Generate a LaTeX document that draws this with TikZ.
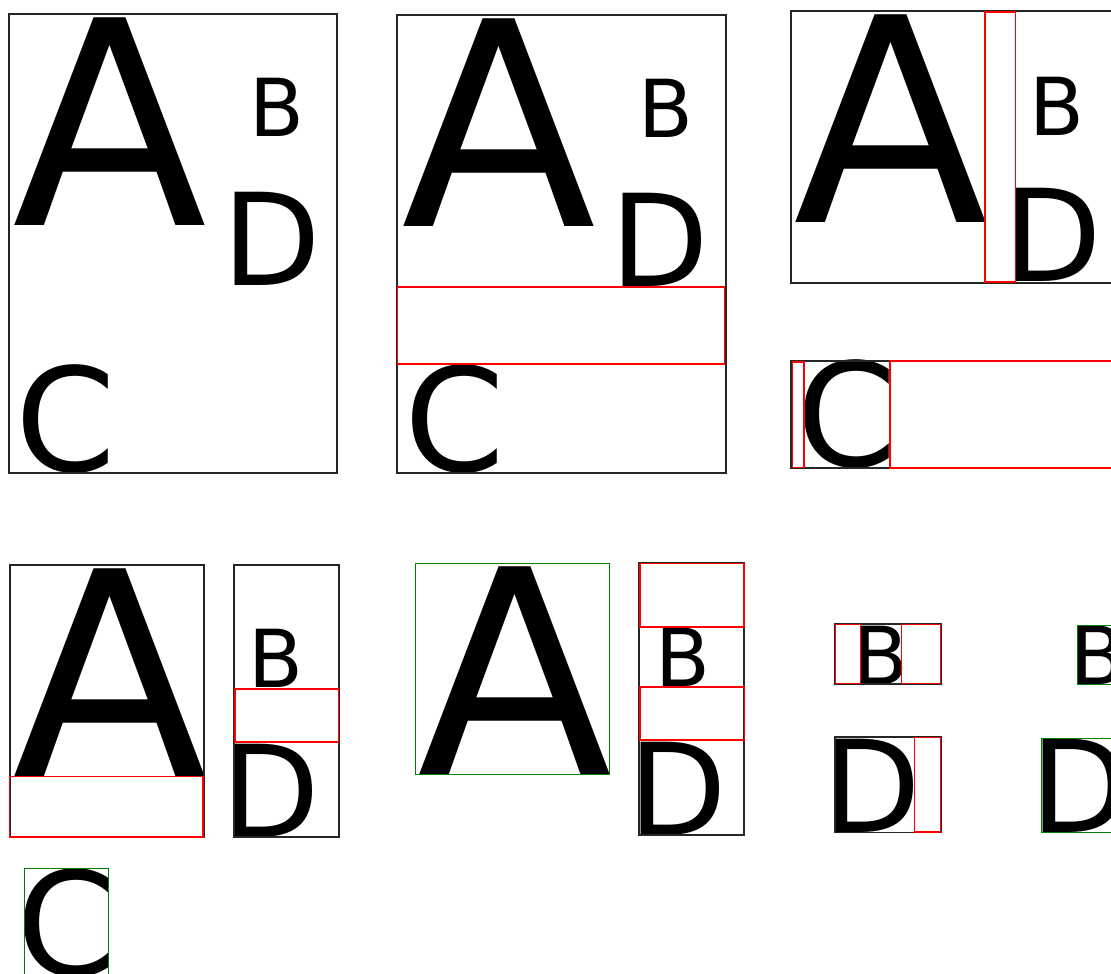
\documentclass[tikz,border=0pt]{standalone}
\usepackage{fontspec}
\setmainfont{DejaVu Sans}
\newcommand{\sizeA}{\fontsize{285}{290}\selectfont}
\newcommand{\sizeB}{\fontsize{80}{84}\selectfont}
\newcommand{\sizeC}{\fontsize{144}{148}\selectfont}
\newcommand{\sizeD}{\fontsize{128}{132}\selectfont}
\tikzset{
  letter/.style={inner sep=0pt, outer sep=0pt, anchor=base west},
  outerbox/.style={draw=black!85, line width=1.3pt},
  spacebox/.style={draw=red, line width=1.3pt},
  fitbox/.style={draw=green!50!black, line width=1pt}
}
\begin{document}
\begin{tikzpicture}[x=1pt, y=-1pt]
\clip (0,0) rectangle (1111,974);
\fill[white] (0,0) rectangle (1111,974);

\node[letter] (a1) at (12.8,225) {\sizeA A};
\node[letter] (b1) at (249.5,136.7) {\sizeB B};
\node[letter] (d1) at (222.4,285) {\sizeD D};
\node[letter] (c1) at (15.9,471) {\sizeC C};
\draw[outerbox] (9,14) rectangle (337,473);

\node[letter] (a2) at (401.1,226.7) {\sizeA A};
\node[letter] (b2) at (638.2,137.3) {\sizeB B};
\node[letter] (d2) at (610.7,286) {\sizeD D};
\node[letter] (c2) at (404.6,471.3) {\sizeC C};
\draw[outerbox] (397,15) rectangle (726,473);
\draw[spacebox] (397.5,287) rectangle (724.5,364);

\node[letter] (a3) at (793.5,222.7) {\sizeA A};
\node[letter] (b3) at (1029.9,135) {\sizeB B};
\node[letter] (d3) at (1003.4,281.7) {\sizeD D};
\node[letter] (c3) at (796.9,466.3) {\sizeC C};
\draw[outerbox] (791,11) rectangle (1120,283);
\draw[spacebox] (985,12) rectangle (1015.5,282);
\draw[outerbox] (791,361) rectangle (890,468);
\draw[spacebox] (792.3,362) rectangle (804,467.3);
\draw[spacebox] (890,361) rectangle (1120,468);

\node[letter] (a4) at (12.8,776.7) {\sizeA A};
\node[letter] (b4) at (248.9,687.7) {\sizeB B};
\node[letter] (d4) at (221.4,837) {\sizeD D};
\node[letter] (c4) at (16.2,975) {\sizeC C};
\draw[outerbox] (10,565) rectangle (204,837);
\draw[spacebox] (9.5,776.5) rectangle (203,837);
\draw[outerbox] (234,565) rectangle (339,837);
\draw[spacebox] (235,689) rectangle (338.5,742);
\draw[fitbox] (24,868) rectangle (108,990);

\node[letter] (a5) at (417.8,774) {\sizeA A};
\node[letter] (b5) at (655.5,686) {\sizeB B};
\node[letter] (d5) at (628.1,835) {\sizeD D};
\draw[fitbox] (415.5,563.5) rectangle (609.5,774.5);
\draw[outerbox] (639,563) rectangle (744,835);
\draw[spacebox] (640,563.5) rectangle (744,627);
\draw[spacebox] (640,687) rectangle (744.5,740);

\node[letter] (b6) at (853.2,684) {\sizeB B};
\node[letter] (d6) at (822.4,832.5) {\sizeD D};
\draw[outerbox] (835,624) rectangle (941,684);
\draw[spacebox] (835.5,624.5) rectangle (860.5,683.5);
\draw[spacebox] (901.5,624.5) rectangle (940.5,683.5);
\draw[outerbox] (835,737) rectangle (941,832.5);
\draw[spacebox] (914.3,737.5) rectangle (940.5,832);

\node[letter] (b7) at (1070.5,684) {\sizeB B};
\node[letter] (d7) at (1030.1,832.5) {\sizeD D};
\draw[fitbox] (1077,625) rectangle (1120,684);
\draw[fitbox] (1041,738) rectangle (1120,832.5);
\end{tikzpicture}
\end{document}
